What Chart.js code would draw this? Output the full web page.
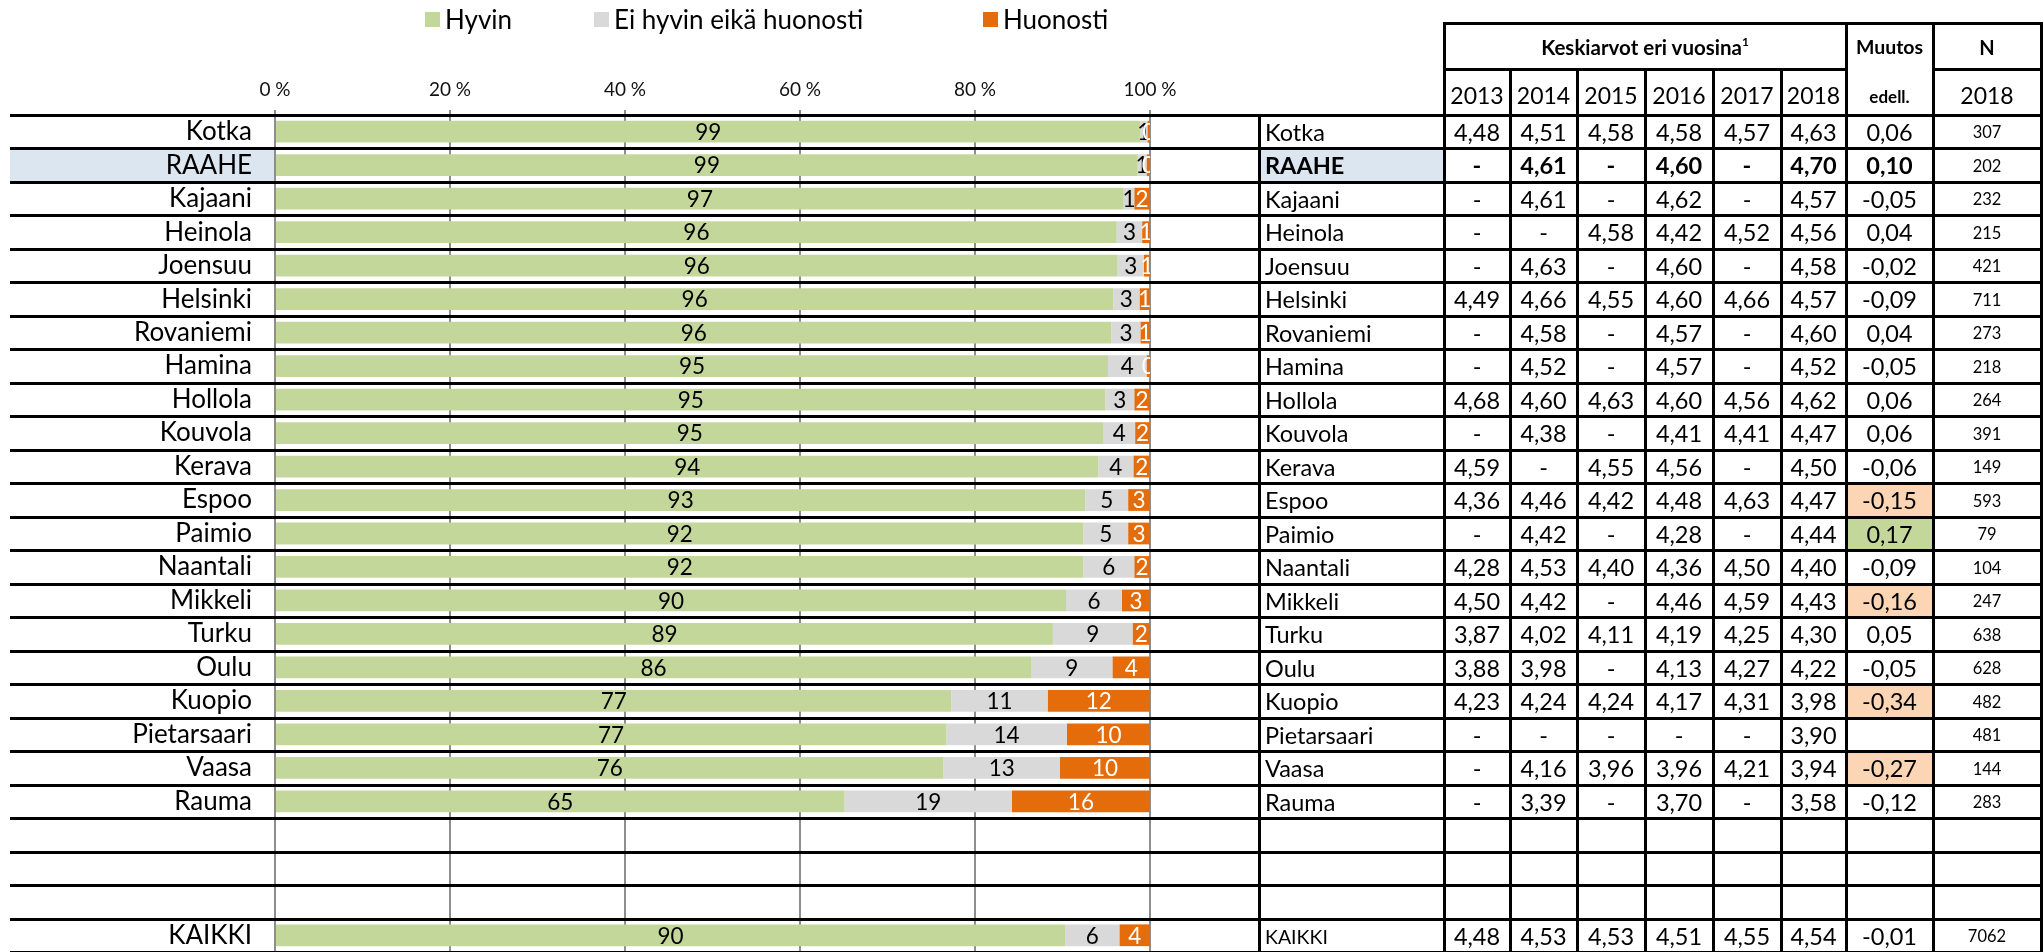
<!DOCTYPE html>
<html>
<head>
<meta charset="utf-8">
<script src="https://cdn.jsdelivr.net/npm/chart.js@4.4.1/dist/chart.umd.min.js"></script>
<style>
    html, body { margin: 0; padding: 0; background: #fff; }
    body { width: 2044px; height: 952px; position: relative; overflow: hidden; font-family: Lato, 'Noto Sans', sans-serif; color: #000; }
    #chart { position: absolute; left: 0; top: 0; }
    .cell { position: absolute; display: flex; align-items: center; justify-content: center; white-space: nowrap; line-height: 1; }
    .name { justify-content: flex-start; padding-left: 6px; box-sizing: border-box; }
    .legend-item { position: absolute; top: 5px; display: flex; align-items: center; font-size: 26px; white-space: nowrap; line-height: 1.1; }
    .legend-box { width: 15px; height: 15px; margin-right: 5px; }
</style>
</head>
<body>
<canvas id="chart" width="2044" height="952"></canvas>
<div id="overlay"></div>
<script>
// Rows (three empty spacer rows before the total)
const cities = ['Kotka', 'RAAHE', 'Kajaani', 'Heinola', 'Joensuu', 'Helsinki', 'Rovaniemi', 'Hamina',
    'Hollola', 'Kouvola', 'Kerava', 'Espoo', 'Paimio', 'Naantali', 'Mikkeli', 'Turku', 'Oulu',
    'Kuopio', 'Pietarsaari', 'Vaasa', 'Rauma', '', '', '', 'KAIKKI'];

// Shares in % (bar labels show the rounded values)
const hyvin = [98.9, 98.6, 97.0, 96.2, 96.3, 95.8, 95.6, 95.2, 94.9, 94.7, 94.1, 92.6, 92.4, 92.4,
    90.4, 88.9, 86.4, 77.3, 76.7, 76.4, 65.1, null, null, null, 90.3];
const eiHyvinEikaHuonosti = [0.8, 1.0, 1.2, 2.9, 3.0, 3.0, 3.3, 4.4, 3.3, 3.6, 4.0, 4.9, 5.1, 5.8,
    6.4, 9.1, 9.3, 11.0, 13.8, 13.3, 19.1, null, null, null, 6.2];
const huonosti = [0.3, 0.4, 1.8, 0.9, 0.7, 1.2, 1.1, 0.4, 1.8, 1.7, 1.9, 2.5, 2.5, 1.8,
    3.2, 2.0, 4.3, 11.7, 9.5, 10.3, 15.8, null, null, null, 3.5];

const xTicks = [0, 20, 40, 60, 80, 100];

// Table: means by year
const years = ['2013', '2014', '2015', '2016', '2017', '2018'];
const mean2013 = [4.48, null, null, null, null, 4.49, null, null, 4.68, null, 4.59, 4.36, null, 4.28,
    4.50, 3.87, 3.88, 4.23, null, null, null, null, null, null, 4.48];
const mean2014 = [4.51, 4.61, 4.61, null, 4.63, 4.66, 4.58, 4.52, 4.60, 4.38, null, 4.46, 4.42, 4.53,
    4.42, 4.02, 3.98, 4.24, null, 4.16, 3.39, null, null, null, 4.53];
const mean2015 = [4.58, null, null, 4.58, null, 4.55, null, null, 4.63, null, 4.55, 4.42, null, 4.40,
    null, 4.11, null, 4.24, null, 3.96, null, null, null, null, 4.53];
const mean2016 = [4.58, 4.60, 4.62, 4.42, 4.60, 4.60, 4.57, 4.57, 4.60, 4.41, 4.56, 4.48, 4.28, 4.36,
    4.46, 4.19, 4.13, 4.17, null, 3.96, 3.70, null, null, null, 4.51];
const mean2017 = [4.57, null, null, 4.52, null, 4.66, null, null, 4.56, 4.41, null, 4.63, null, 4.50,
    4.59, 4.25, 4.27, 4.31, null, 4.21, null, null, null, null, 4.55];
const mean2018 = [4.63, 4.70, 4.57, 4.56, 4.58, 4.57, 4.60, 4.52, 4.62, 4.47, 4.50, 4.47, 4.44, 4.40,
    4.43, 4.30, 4.22, 3.98, 3.90, 3.94, 3.58, null, null, null, 4.54];
const muutos = [0.06, 0.10, -0.05, 0.04, -0.02, -0.09, 0.04, -0.05, 0.06, 0.06, -0.06, -0.15, 0.17, -0.09,
    -0.16, 0.05, -0.05, -0.34, null, -0.27, -0.12, null, null, null, -0.01];
const muutosMark = [null, null, null, null, null, null, null, null, null, null, null, 'neg', 'pos', null,
    'neg', null, null, 'neg', null, 'neg', null, null, null, null, null];
const nVastaajat = [307, 202, 232, 215, 421, 711, 273, 218, 264, 391, 149, 593, 79, 104,
    247, 638, 628, 482, 481, 144, 283, null, null, null, 7062];

const meansByYear = [mean2013, mean2014, mean2015, mean2016, mean2017, mean2018];

// Layout of the table on the right
const colEdges = [1259, 1444, 1510, 1577, 1645, 1713, 1781, 1846, 1933, 2041];
const HEAD_TOP = 23;
const HEAD_MID = 69;
const LINE_LEFT = 10;
const HIGHLIGHT = 'RAAHE';

Chart.defaults.font.family = "Lato, 'Noto Sans', sans-serif";
Chart.defaults.color = '#000';

function fmt(v) {
    return v.toFixed(2).replace('.', ',');
}

// Fills and black row lines of the table, drawn on the chart canvas
const tableGrid = {
    id: 'tableGrid',
    beforeDraw(chart) {
        const { ctx, chartArea } = chart;
        const y = chart.scales.y;
        const step = y.getPixelForValue(1) - y.getPixelForValue(0);
        ctx.save();
        const hi = cities.indexOf(HIGHLIGHT);
        const top = y.getPixelForValue(hi) - step / 2;
        ctx.fillStyle = '#dce6f1';
        ctx.fillRect(LINE_LEFT, top, chartArea.left - LINE_LEFT, step);
        ctx.fillRect(colEdges[0], top, colEdges[1] - colEdges[0], step);
        muutosMark.forEach((m, i) => {
            if (!m) return;
            ctx.fillStyle = m === 'neg' ? '#fcd5b4' : '#c4d79b';
            ctx.fillRect(colEdges[7], y.getPixelForValue(i) - step / 2, colEdges[8] - colEdges[7], step);
        });
        ctx.restore();
    },
    beforeDatasetsDraw(chart) {
        const { ctx } = chart;
        const y = chart.scales.y;
        const step = y.getPixelForValue(1) - y.getPixelForValue(0);
        const bottom = chart.height;
        ctx.save();
        ctx.strokeStyle = '#000';
        ctx.lineWidth = 3;
        ctx.beginPath();
        for (let i = 0; i <= cities.length; i++) {
            const ly = Math.round(y.getPixelForValue(0) - step / 2 + i * step) + 0.5;
            ctx.moveTo(LINE_LEFT, ly);
            ctx.lineTo(colEdges[9], ly);
        }
        const firstLine = Math.round(y.getPixelForValue(0) - step / 2);
        // header lines
        ctx.moveTo(colEdges[1], HEAD_TOP + 0.5);
        ctx.lineTo(colEdges[9], HEAD_TOP + 0.5);
        ctx.moveTo(colEdges[1], HEAD_MID + 0.5);
        ctx.lineTo(colEdges[7], HEAD_MID + 0.5);
        ctx.moveTo(colEdges[8], HEAD_MID + 0.5);
        ctx.lineTo(colEdges[9], HEAD_MID + 0.5);
        // vertical lines
        ctx.moveTo(colEdges[0] + 0.5, firstLine);
        ctx.lineTo(colEdges[0] + 0.5, bottom);
        colEdges.slice(1).forEach((x, k) => {
            const yearSplit = k >= 1 && k <= 5;
            ctx.moveTo(x + 0.5, (yearSplit ? HEAD_MID : HEAD_TOP) - 1);
            ctx.lineTo(x + 0.5, bottom);
        });
        ctx.stroke();
        ctx.restore();
    }
};

// Rounded values inside the bar segments
const barLabels = {
    id: 'barLabels',
    afterDatasetsDraw(chart) {
        const { ctx, chartArea } = chart;
        ctx.save();
        ctx.beginPath();
        ctx.rect(chartArea.left, chartArea.top, chartArea.right - chartArea.left, chartArea.bottom - chartArea.top);
        ctx.clip();
        ctx.font = "22.5px Lato, 'Noto Sans', sans-serif";
        ctx.textAlign = 'center';
        ctx.textBaseline = 'middle';
        chart.data.datasets.forEach((ds, di) => {
            const meta = chart.getDatasetMeta(di);
            meta.data.forEach((bar, i) => {
                const v = ds.data[i];
                if (v === null || v === undefined) return;
                ctx.fillStyle = ds.labelColor;
                ctx.fillText(String(Math.round(v)), (bar.x + bar.base) / 2, bar.y + 1);
            });
        });
        ctx.restore();
    }
};

const chart = new Chart(document.getElementById('chart'), {
    type: 'bar',
    data: {
        labels: cities,
        datasets: [
            { label: 'Hyvin', data: hyvin, backgroundColor: '#c4d79b', labelColor: '#000' },
            { label: 'Ei hyvin eikä huonosti', data: eiHyvinEikaHuonosti, backgroundColor: '#d9d9d9', labelColor: '#000' },
            { label: 'Huonosti', data: huonosti, backgroundColor: '#e46c0a', labelColor: '#fff' }
        ]
    },
    options: {
        indexAxis: 'y',
        responsive: false,
        animation: false,
        layout: { padding: { left: 0, right: 2044 - 1150, top: 0, bottom: 0 } },
        datasets: { bar: { barPercentage: 0.65, categoryPercentage: 1 } },
        plugins: {
            legend: { display: false },
            tooltip: { enabled: false }
        },
        scales: {
            x: {
                position: 'top',
                stacked: true,
                min: 0,
                max: 100,
                afterBuildTicks(scale) {
                    scale.ticks = xTicks.map(v => ({ value: v }));
                },
                afterFit(scale) {
                    scale.height = 115;
                },
                ticks: {
                    font: { size: 19 },
                    color: '#111',
                    padding: 9,
                    callback: v => v + ' %'
                },
                grid: { color: '#8e8e8e', lineWidth: 2, tickLength: 5 },
                border: { display: false }
            },
            y: {
                stacked: true,
                afterFit(scale) {
                    scale.width = 275;
                    scale.paddingTop = 0;
                    scale.paddingBottom = 0;
                },
                ticks: { font: { size: 26 }, color: '#000', padding: 15, autoSkip: false },
                grid: { display: true, drawOnChartArea: false, offset: true, tickLength: 8, color: '#999' },
                border: { color: '#8e8e8e', width: 2 }
            }
        }
    },
    plugins: [tableGrid, barLabels]
});

// Legend and table text as HTML on top of the canvas
const overlay = document.getElementById('overlay');
function addCell(html, left, top, width, height, style) {
    const d = document.createElement('div');
    d.className = 'cell';
    d.innerHTML = html;
    Object.assign(d.style, { left: left + 'px', top: top + 'px', width: width + 'px', height: height + 'px' }, style || {});
    overlay.appendChild(d);
    return d;
}

const legendX = [425, 594, 983];
chart.data.datasets.forEach((ds, i) => {
    const item = document.createElement('div');
    item.className = 'legend-item';
    item.style.left = legendX[i] + 'px';
    item.innerHTML = '<span class="legend-box" style="background:' + ds.backgroundColor + '"></span>' + ds.label;
    overlay.appendChild(item);
});

// header
const yearLeft = colEdges[1], muutosLeft = colEdges[7], nLeft = colEdges[8];
addCell('Keskiarvot eri vuosina<sup style="font-size:12px;position:relative;top:-5px">1</sup>', yearLeft, HEAD_TOP + 1, muutosLeft - yearLeft, HEAD_MID - HEAD_TOP,
    { fontWeight: 'bold', fontSize: '20.5px' });
addCell('Muutos', muutosLeft, HEAD_TOP + 1, nLeft - muutosLeft, HEAD_MID - HEAD_TOP, { fontWeight: 'bold', fontSize: '19.5px' });
addCell('edell.', muutosLeft, HEAD_MID + 4, nLeft - muutosLeft, 115 - HEAD_MID, { fontWeight: 'bold', fontSize: '17px' });
addCell('N', nLeft, HEAD_TOP + 1, colEdges[9] - nLeft, HEAD_MID - HEAD_TOP, { fontWeight: 'bold', fontSize: '20px' });
addCell('2018', nLeft, HEAD_MID + 3, colEdges[9] - nLeft, 115 - HEAD_MID, { fontSize: '23px' });
years.forEach((yr, k) => {
    addCell(yr, colEdges[k + 1], HEAD_MID + 3, colEdges[k + 2] - colEdges[k + 1], 115 - HEAD_MID, { fontSize: '23px' });
});

// body
const yScale = chart.scales.y;
const step = yScale.getPixelForValue(1) - yScale.getPixelForValue(0);
cities.forEach((city, i) => {
    if (city === '') return;
    const top = yScale.getPixelForValue(i) - step / 2 + 1;
    const bold = city === HIGHLIGHT ? 'bold' : 'normal';
    const total = city === 'KAIKKI';
    const nameCell = addCell(city, colEdges[0], top, colEdges[1] - colEdges[0], step,
        { fontSize: total ? '19.5px' : '23.5px', fontWeight: bold });
    nameCell.classList.add('name');
    meansByYear.forEach((arr, k) => {
        const v = arr[i];
        addCell(v === null ? '-' : fmt(v), colEdges[k + 1], top, colEdges[k + 2] - colEdges[k + 1], step,
            { fontSize: '23.5px', fontWeight: bold });
    });
    const m = muutos[i];
    addCell(m === null ? '' : fmt(m), colEdges[7], top, colEdges[8] - colEdges[7], step,
        { fontSize: '23.5px', fontWeight: bold });
    addCell(nVastaajat[i] === null ? '' : String(nVastaajat[i]), colEdges[8], top, colEdges[9] - colEdges[8], step,
        { fontSize: '16.5px' });
});
</script>
</body>
</html>
